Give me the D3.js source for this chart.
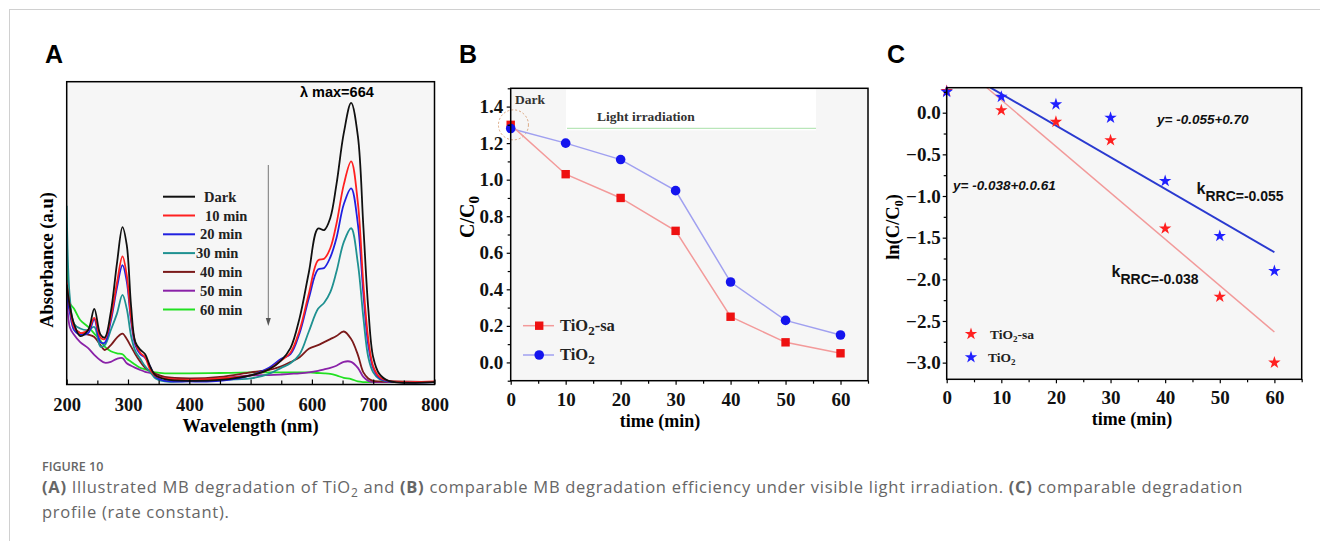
<!DOCTYPE html>
<html><head><meta charset="utf-8">
<script src="https://cdn.jsdelivr.net/npm/d3@7"></script>
<style>body{margin:0;background:#fff;} svg{display:block;}</style>
</head><body>
<svg id="fig" width="1320" height="541"></svg>
<script>
// ---------- Panel A data (absorbance, arbitrary units) ----------
const wavelengths = [200,205,212,222,235,245,255,262,272,282,291,298,305,312,320,328,336,345,360,400,450,500,530,550,565,580,595,610,620,630,640,652,664,675,684,692,700,710,725,800];
const absDark = [0.33,0.26,0.20,0.16,0.18,0.25,0.165,0.155,0.24,0.40,0.52,0.46,0.26,0.14,0.115,0.10,0.06,0.03,0.018,0.012,0.015,0.03,0.05,0.08,0.12,0.22,0.37,0.515,0.51,0.55,0.66,0.83,0.93,0.82,0.52,0.25,0.09,0.035,0.012,0.008];
const abs10 = [0.336,0.26,0.19,0.17,0.18,0.22,0.155,0.15,0.22,0.336,0.423,0.36,0.22,0.137,0.105,0.09,0.05,0.028,0.02,0.015,0.02,0.03,0.05,0.08,0.105,0.18,0.30,0.41,0.415,0.45,0.53,0.66,0.737,0.60,0.33,0.15,0.06,0.025,0.012,0.01];
const abs20 = [0.30,0.24,0.18,0.165,0.17,0.215,0.14,0.138,0.21,0.32,0.394,0.34,0.21,0.13,0.10,0.088,0.06,0.025,0.012,0.01,0.012,0.03,0.055,0.085,0.10,0.17,0.285,0.38,0.385,0.42,0.483,0.595,0.648,0.53,0.30,0.13,0.055,0.022,0.01,0.008];
const abs30 = [0.59,0.29,0.20,0.185,0.18,0.19,0.125,0.13,0.18,0.234,0.296,0.25,0.16,0.11,0.085,0.06,0.042,0.02,0.01,0.012,0.015,0.02,0.035,0.055,0.07,0.10,0.175,0.25,0.27,0.305,0.372,0.47,0.516,0.40,0.22,0.09,0.04,0.018,0.01,0.008];
const abs40 = [0.33,0.25,0.19,0.17,0.165,0.157,0.13,0.114,0.13,0.155,0.168,0.15,0.125,0.10,0.075,0.055,0.045,0.035,0.025,0.02,0.025,0.04,0.048,0.06,0.074,0.09,0.118,0.13,0.14,0.15,0.16,0.175,0.15,0.098,0.04,0.02,0.012,0.01,0.01,0.008];
const abs50 = [0.346,0.19,0.164,0.14,0.12,0.098,0.08,0.072,0.075,0.085,0.087,0.07,0.062,0.055,0.048,0.042,0.038,0.03,0.02,0.015,0.02,0.03,0.031,0.033,0.035,0.037,0.04,0.045,0.05,0.055,0.062,0.075,0.075,0.055,0.025,0.012,0.008,0.008,0.008,0.008];
const abs60 = [0.41,0.27,0.25,0.213,0.19,0.168,0.145,0.125,0.11,0.103,0.10,0.085,0.075,0.065,0.055,0.05,0.045,0.04,0.037,0.037,0.038,0.04,0.04,0.04,0.04,0.04,0.04,0.038,0.037,0.035,0.03,0.022,0.018,0.01,0.008,0.008,0.008,0.008,0.008,0.008];
const seriesNamesA = ["Dark","10 min","20 min","30 min","40 min","50 min","60 min"];
const seriesColorsA = ["#111111","#ff2020","#2020e0","#1f9191","#7b1a1a","#8a22a8","#22e022"];
const xTicksA = [200,300,400,500,600,700,800];

// ---------- Panel B data ----------
const timesB = [0,10,20,30,40,50,60];
const ratioTiO2sa = [1.30,1.03,0.90,0.72,0.25,0.11,0.05];
const ratioTiO2 = [1.28,1.20,1.11,0.94,0.44,0.23,0.15];
const yTicksB = [0,0.2,0.4,0.6,0.8,1.0,1.2,1.4];
const xTicksBC = [0,10,20,30,40,50,60];

// ---------- Panel C data ----------
const timesC = [0,10,20,30,40,50,60];
const lnTiO2sa = [0.26,0.03,-0.11,-0.33,-1.39,-2.21,-3.0];
const lnTiO2 = [0.25,0.19,0.10,-0.06,-0.82,-1.48,-1.90];
const fitSlopes = [-0.0557,-0.038];      // red fit, blue fit
const fitIntercepts = [0.71,0.605];
const yTicksC = [0,-0.5,-1.0,-1.5,-2.0,-2.5,-3.0];

const svg = d3.select("#fig");
const SERIF = "'Liberation Serif','Times New Roman',serif";
const SANS = "'Liberation Sans',Arial,sans-serif";

// page border
svg.append("line").attr("x1",9.5).attr("x2",9.5).attr("y1",9).attr("y2",541).attr("stroke","#d0d0d0");
svg.append("line").attr("x1",9).attr("x2",1320).attr("y1",9.5).attr("y2",9.5).attr("stroke","#d0d0d0");

function panelLetter(t,x){
  svg.append("text").attr("x",x).attr("y",63).text(t)
    .attr("font-family",SANS).attr("font-weight","bold").attr("font-size",25).attr("fill","#000");
}
panelLetter("A",45); panelLetter("B",459); panelLetter("C",887);

function styleAxis(g, size){
  g.select(".domain").remove();
  g.selectAll("text").attr("font-family",SERIF).attr("font-weight","bold").attr("font-size",size).attr("fill","#111");
  g.selectAll("line").attr("stroke","#000").attr("stroke-width",1.2);
}

// =================== PANEL A ===================
{
  const L=66.7, R=434.5, T=81.7, B=384.5;
  const x = d3.scaleLinear().domain([200,800]).range([L,R]);
  const y = d3.scaleLinear().domain([0,1]).range([B,T]);
  svg.append("rect").attr("x",L).attr("y",T).attr("width",R-L).attr("height",B-T).attr("fill","#f6f6f6");
  svg.append("clipPath").attr("id","clipA").append("rect").attr("x",L).attr("y",T).attr("width",R-L).attr("height",B-T);
  const all = [absDark,abs10,abs20,abs30,abs40,abs50,abs60];
  const line = d3.line().x((d,i)=>x(wavelengths[i])).y(d=>y(d)).curve(d3.curveCatmullRom.alpha(0.5));
  const gL = svg.append("g").attr("clip-path","url(#clipA)");
  for(let k=all.length-1;k>=0;k--){
    gL.append("path").attr("d",line(all[k])).attr("fill","none")
      .attr("stroke",seriesColorsA[k]).attr("stroke-width",1.8).attr("stroke-linejoin","round");
  }
  const ax = svg.append("g").attr("transform",`translate(0,${B})`)
    .call(d3.axisBottom(x).tickValues(xTicksA).tickFormat(d3.format("d")).tickSize(-5).tickPadding(13));
  styleAxis(ax,18.5);
  const axm = svg.append("g").attr("transform",`translate(0,${B})`)
    .call(d3.axisBottom(x).tickValues([250,350,450,550,650,750]).tickFormat("").tickSize(-4));
  styleAxis(axm,18.5);
  svg.append("rect").attr("x",L).attr("y",T).attr("width",R-L).attr("height",B-T).attr("fill","none").attr("stroke","#000").attr("stroke-width",1.5);
  svg.append("text").attr("x",(L+R)/2).attr("y",432).attr("text-anchor","middle").text("Wavelength (nm)")
    .attr("font-family",SERIF).attr("font-weight","bold").attr("font-size",18.5);
  svg.append("text").attr("transform","translate(53,260) rotate(-90)").attr("text-anchor","middle").text("Absorbance (a.u)")
    .attr("font-family",SERIF).attr("font-weight","bold").attr("font-size",18.5);
  svg.append("text").attr("x",300).attr("y",96.5).text("λ max=664")
    .attr("font-family",SANS).attr("font-weight","bold").attr("font-size",14.5);
  svg.append("line").attr("x1",268.3).attr("x2",268.3).attr("y1",165).attr("y2",320).attr("stroke","#777").attr("stroke-width",1);
  svg.append("path").attr("d","M265.8,318 L270.8,318 L268.3,326 Z").attr("fill","#555");
  const legX = [204,205,200,196,200,200,200];
  seriesNamesA.forEach((n,i)=>{
    const yy = 196.7 + i*18.8;
    svg.append("line").attr("x1",163).attr("x2",195).attr("y1",yy).attr("y2",yy).attr("stroke",seriesColorsA[i]).attr("stroke-width",2);
    svg.append("text").attr("x",legX[i]).attr("y",yy+5).text(n)
      .attr("font-family",SERIF).attr("font-weight","bold").attr("font-size",14.5).attr("fill","#222");
  });
}

// =================== PANEL B ===================
{
  const x = d3.scaleLinear().domain([0,65]).range([510.7,868]);
  const y = d3.scaleLinear().domain([-0.1,1.5]).range([380.7,88.3]);
  const L=x(0),R=x(65),T=y(1.5),B=y(-0.1);
  svg.append("rect").attr("x",L).attr("y",T).attr("width",R-L).attr("height",B-T).attr("fill","#f6f6f6");
  svg.append("rect").attr("x",566).attr("y",T+1).attr("width",250).attr("height",41).attr("fill","#ffffff");
  svg.append("line").attr("x1",567).attr("x2",816).attr("y1",128.3).attr("y2",128.3).attr("stroke","#a8e0a8").attr("stroke-width",1);
  svg.append("text").attr("x",597).attr("y",120.5).text("Light irradiation")
    .attr("font-family",SERIF).attr("font-weight","bold").attr("font-size",13.5).attr("fill","#333");
  svg.append("text").attr("x",515).attr("y",104).text("Dark")
    .attr("font-family",SERIF).attr("font-weight","bold").attr("font-size",13.5).attr("fill","#333");
  svg.append("circle").attr("cx",x(0.5)).attr("cy",y(1.30)).attr("r",15)
    .attr("fill","none").attr("stroke","#d9a27a").attr("stroke-width",1).attr("stroke-dasharray","2,2");

  const lineB = d3.line().x((d,i)=>x(timesB[i])).y(d=>y(d));
  svg.append("path").attr("d",lineB(ratioTiO2)).attr("fill","none").attr("stroke","#a0a0f0").attr("stroke-width",1.5);
  svg.append("path").attr("d",lineB(ratioTiO2sa)).attr("fill","none").attr("stroke","#f39a9a").attr("stroke-width",1.5);
  svg.selectAll(".sqB").data(ratioTiO2sa).enter().append("rect")
    .attr("x",(d,i)=>x(timesB[i])-4.2).attr("y",d=>y(d)-4.2).attr("width",8.4).attr("height",8.4).attr("fill","#ee1111");
  svg.selectAll(".ciB").data(ratioTiO2).enter().append("circle")
    .attr("cx",(d,i)=>x(timesB[i])).attr("cy",d=>y(d)).attr("r",4.8).attr("fill","#1414ee");

  const ax = svg.append("g").attr("transform",`translate(0,${B})`)
    .call(d3.axisBottom(x).tickValues(xTicksBC).tickSize(4).tickPadding(8));
  styleAxis(ax,19);
  const axm = svg.append("g").attr("transform",`translate(0,${B})`)
    .call(d3.axisBottom(x).tickValues([5,15,25,35,45,55,65]).tickFormat("").tickSize(3));
  styleAxis(axm,19);
  const ay = svg.append("g").attr("transform",`translate(${L},0)`)
    .call(d3.axisLeft(y).tickValues(yTicksB).tickFormat(d3.format(".1f")).tickSize(4).tickPadding(3.5));
  styleAxis(ay,19);
  const aym = svg.append("g").attr("transform",`translate(${L},0)`)
    .call(d3.axisLeft(y).tickValues([-0.1,0.1,0.3,0.5,0.7,0.9,1.1,1.3,1.5]).tickFormat("").tickSize(3));
  styleAxis(aym,19);
  svg.append("rect").attr("x",L).attr("y",T).attr("width",R-L).attr("height",B-T).attr("fill","none").attr("stroke","#000").attr("stroke-width",1.5);

  svg.append("text").attr("x",660).attr("y",427).attr("text-anchor","middle").text("time (min)")
    .attr("font-family",SERIF).attr("font-weight","bold").attr("font-size",18);
  const yl = svg.append("text").attr("transform","translate(474,217) rotate(-90)").attr("text-anchor","middle")
    .attr("font-family",SERIF).attr("font-weight","bold").attr("font-size",20);
  yl.append("tspan").text("C/C");
  yl.append("tspan").attr("dy",5).attr("font-size",15).text("0");

  svg.append("line").attr("x1",523).attr("x2",554).attr("y1",325.7).attr("y2",325.7).attr("stroke","#f39a9a").attr("stroke-width",1.5);
  svg.append("rect").attr("x",535).attr("y",321.5).attr("width",8.4).attr("height",8.4).attr("fill","#ee1111");
  svg.append("line").attr("x1",523).attr("x2",554).attr("y1",355).attr("y2",355).attr("stroke","#a0a0f0").attr("stroke-width",1.5);
  svg.append("circle").attr("cx",539.2).attr("cy",355).attr("r",4.8).attr("fill","#1414ee");
  const t1 = svg.append("text").attr("x",560).attr("y",331).attr("font-family",SERIF).attr("font-weight","bold").attr("font-size",16.5).attr("fill","#222");
  t1.append("tspan").text("TiO");
  t1.append("tspan").attr("dy",4).attr("font-size",13).text("2");
  t1.append("tspan").attr("dy",-4).text("-sa");
  const t2 = svg.append("text").attr("x",560).attr("y",360).attr("font-family",SERIF).attr("font-weight","bold").attr("font-size",16.5).attr("fill","#222");
  t2.append("tspan").text("TiO");
  t2.append("tspan").attr("dy",4).attr("font-size",13).text("2");
}

// =================== PANEL C ===================
{
  const x = d3.scaleLinear().domain([0,65]).range([946.7,1301.7]);
  const y = d3.scaleLinear().domain([-3.2,0.3]).range([379.3,87.7]);
  const L=x(0),R=x(65),T=y(0.3),B=y(-3.2);
  svg.append("rect").attr("x",L).attr("y",T).attr("width",R-L).attr("height",B-T).attr("fill","#f6f6f6");
  svg.append("clipPath").attr("id","clipC").append("rect").attr("x",L).attr("y",T).attr("width",R-L).attr("height",B-T);
  const fitColors = ["#f29a9a","#2a3ad0"];
  const fitWidths = [1.5,2];
  fitSlopes.forEach((m,i)=>{
    const b = fitIntercepts[i];
    const x0 = (0.3-b)/m;
    svg.append("line").attr("clip-path","url(#clipC)")
      .attr("x1",x(x0)).attr("y1",y(m*x0+b)).attr("x2",x(60)).attr("y2",y(m*60+b))
      .attr("stroke",fitColors[i]).attr("stroke-width",fitWidths[i]);
  });
  const star = d3.symbol().type(d3.symbolStar).size(48);
  svg.selectAll(".stR").data(lnTiO2sa).enter().append("path").attr("d",star)
    .attr("transform",(d,i)=>`translate(${x(timesC[i])},${y(d)})`).attr("fill","#ff2020");
  svg.selectAll(".stB").data(lnTiO2).enter().append("path").attr("d",star)
    .attr("transform",(d,i)=>`translate(${x(timesC[i])},${y(d)})`).attr("fill","#2020ff");

  const ax = svg.append("g").attr("transform",`translate(0,${B})`)
    .call(d3.axisBottom(x).tickValues(xTicksBC).tickSize(4).tickPadding(7));
  styleAxis(ax,19);
  const axm = svg.append("g").attr("transform",`translate(0,${B})`)
    .call(d3.axisBottom(x).tickValues([5,15,25,35,45,55,65]).tickFormat("").tickSize(3));
  styleAxis(axm,19);
  const ay = svg.append("g").attr("transform",`translate(${L},0)`)
    .call(d3.axisLeft(y).tickValues(yTicksC).tickFormat(d3.format(".1f")).tickSize(4).tickPadding(2));
  styleAxis(ay,19);
  const aym = svg.append("g").attr("transform",`translate(${L},0)`)
    .call(d3.axisLeft(y).tickValues([0.25,-0.25,-0.75,-1.25,-1.75,-2.25,-2.75]).tickFormat("").tickSize(3));
  styleAxis(aym,19);
  svg.append("rect").attr("x",L).attr("y",T).attr("width",R-L).attr("height",B-T).attr("fill","none").attr("stroke","#000").attr("stroke-width",1.5);

  svg.append("text").attr("x",1132).attr("y",425).attr("text-anchor","middle").text("time (min)")
    .attr("font-family",SERIF).attr("font-weight","bold").attr("font-size",18);
  const yl = svg.append("text").attr("transform","translate(899,227) rotate(-90)").attr("text-anchor","middle")
    .attr("font-family",SERIF).attr("font-weight","bold").attr("font-size",18.5);
  yl.append("tspan").text("ln(C/C");
  yl.append("tspan").attr("dy",4).attr("font-size",12).text("0");
  yl.append("tspan").attr("dy",-4).text(")");

  svg.append("text").attr("x",1157).attr("y",123.5).text("y= -0.055+0.70")
    .attr("font-family",SANS).attr("font-weight","bold").attr("font-style","italic").attr("font-size",13.5).attr("fill","#111");
  svg.append("text").attr("x",953).attr("y",189.5).text("y= -0.038+0.0.61")
    .attr("font-family",SANS).attr("font-weight","bold").attr("font-style","italic").attr("font-size",13.5).attr("fill","#111");
  function kLabel(xx,yy,val){
    const t = svg.append("text").attr("x",xx).attr("y",yy).attr("font-family",SANS).attr("font-weight","bold").attr("fill","#111");
    t.append("tspan").attr("font-size",16).text("k");
    t.append("tspan").attr("font-size",14).attr("dy",7).text("RRC="+val);
  }
  kLabel(1196.5,194,"-0.055");
  kLabel(1111.5,277,"-0.038");

  svg.append("path").attr("d",star).attr("transform","translate(971,334)").attr("fill","#ff2020");
  svg.append("path").attr("d",star).attr("transform","translate(971,357.3)").attr("fill","#2020ff");
  const t1 = svg.append("text").attr("x",990).attr("y",338.5).attr("font-family",SERIF).attr("font-weight","bold").attr("font-size",13.5).attr("fill","#222");
  t1.append("tspan").text("TiO");
  t1.append("tspan").attr("dy",3).attr("font-size",9).text("2");
  t1.append("tspan").attr("dy",-3).text("-sa");
  const t2 = svg.append("text").attr("x",988).attr("y",361.5).attr("font-family",SERIF).attr("font-weight","bold").attr("font-size",13.5).attr("fill","#222");
  t2.append("tspan").text("TiO");
  t2.append("tspan").attr("dy",3).attr("font-size",9).text("2");
}

// =================== CAPTION ===================
{
  const CF = "'Open Sans','Noto Sans',sans-serif";
  svg.append("text").attr("x",42).attr("y",471).text("FIGURE 10")
    .attr("font-family",CF).attr("font-weight",600).attr("font-size",12.5).attr("fill","#666");
  const fs = 16.5;
  const l1 = svg.append("text").attr("x",42).attr("y",493).attr("font-family",CF).attr("font-size",fs).attr("fill","#666");
  const parts = [["(A)",true],[" Illustrated MB degradation of TiO",false],["2",false,"sub"],[" and ",false,"after"],["(B)",true],
    [" comparable MB degradation efficiency under visible light irradiation. ",false],["(C)",true],[" comparable degradation",false]];
  parts.forEach(p=>{
    const ts = l1.append("tspan").text(p[0]).attr("font-weight",p[1]?700:400);
    if(p[2]==="sub"){ ts.attr("font-size",12).attr("dy",3.5); }
    if(p[2]==="after"){ ts.attr("dy",-3.5); }
  });
  const l2 = svg.append("text").attr("x",42).attr("y",518).attr("font-family",CF).attr("font-size",fs).attr("fill","#666").text("profile (rate constant).");
  const w = l1.node().getComputedTextLength();
  const target = 1201;
  const n = l1.text().length;
  const ls = (target - w)/n;
  l1.attr("letter-spacing",ls);
  l2.attr("letter-spacing",ls);
}
</script>
</body></html>
